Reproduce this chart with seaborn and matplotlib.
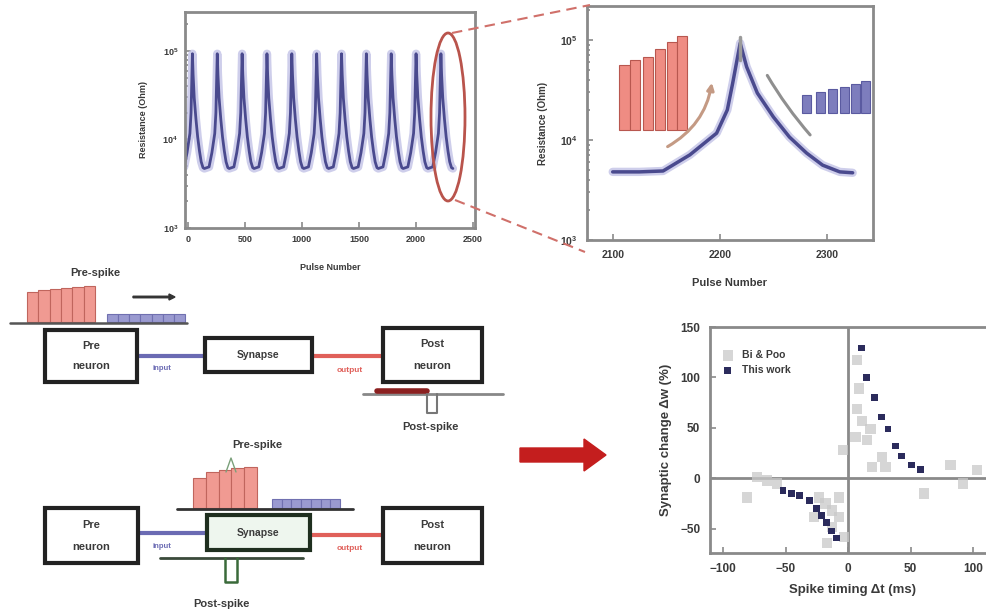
import numpy as np
import pandas as pd
import matplotlib
matplotlib.use('Agg')
import matplotlib.pyplot as plt
import seaborn as sns
from matplotlib.patches import Rectangle, Ellipse, FancyArrow
from matplotlib.lines import Line2D

# ---------------- data ----------------
# one switching cycle (zoomed panel), pulse number and resistance (Ohm)
zoom_pulse = [2100, 2125, 2147, 2172, 2197, 2207, 2212, 2219, 2225, 2235,
              2250, 2265, 2281, 2296, 2312, 2324]
zoom_resistance = [4.8e3, 4.8e3, 4.9e3, 7.1e3, 1.17e4, 2.0e4, 3.7e4, 9.3e4,
                   5.4e4, 2.95e4, 1.7e4, 1.07e4, 7.4e3, 5.6e3, 4.8e3, 4.7e3]
# pulse numbers of each resistance peak in the full run
cycle_peak_pulse = [39, 257, 475, 693, 911, 1129, 1347, 1565, 1783, 2001, 2219]

# inset pulse trains in the zoomed panel
red_pulse_number = [2111, 2121, 2133, 2144, 2155, 2165]
red_pulse_top = [5.6e4, 6.3e4, 6.8e4, 8.1e4, 9.5e4, 1.1e5]
red_pulse_base = 1.26e4
blue_pulse_number = [2281, 2294, 2305, 2316, 2327, 2336]
blue_pulse_top = [2.8e4, 3.0e4, 3.2e4, 3.4e4, 3.6e4, 3.9e4]
blue_pulse_base = 1.86e4

# STDP data
this_work_dt = [11, 15, 21, 27, 32, 38, 43, 51, 58,
                -52, -45, -39, -31, -25, -21, -17, -13, -9]
this_work_dw = [129, 100, 80, 61, 49, 32, 22, 13, 9,
                -12, -15, -17, -22, -30, -37, -44, -52, -59]
bipoo_dt = [7, 9, 7, 11, 18, 6, -4, 15, 27, 30, 19, 82, 61, 92, 103,
            -81, -73, -65, -57, -23, -18, -13, -7, -7, -3, -27, -13, -17]
bipoo_dw = [117, 89, 69, 57, 49, 41, 28, 38, 21, 11, 11, 13, -15, -5, 8,
            -19, 1, -2, -5, -19, -25, -32, -19, -38, -58, -38, -48, -64]

xticks_full = [0, 500, 1000, 1500, 2000, 2500]
xticks_zoom = [2100, 2200, 2300]
xticks_stdp = [-100, -50, 0, 50, 100]
yticks_stdp = [-50, 0, 50, 100, 150]

# ---------------- style ----------------
sns.set_style('ticks')
plt.rcParams['font.family'] = ['Liberation Sans', 'DejaVu Sans']
plt.rcParams['font.weight'] = 'bold'
plt.rcParams['axes.labelweight'] = 'bold'
plt.rcParams['mathtext.default'] = 'bf'

W, H = 986, 611
fig = plt.figure(figsize=(W / 100, H / 100), dpi=100)
SPINE = '#8a8a8a'
TXT = '#3a3a3a'


def rect(x0, y0, x1, y1):
    return [x0 / W, 1 - y1 / H, (x1 - x0) / W, (y1 - y0) / H]


def style(ax, fs, pad=3.5):
    for s in ax.spines.values():
        s.set_color(SPINE)
        s.set_linewidth(2)
    ax.tick_params(which='both', direction='in', colors=SPINE, labelcolor=TXT,
                   labelsize=fs, width=1.2, pad=pad)
    ax.tick_params(which='major', length=4)
    ax.tick_params(which='minor', length=2)


# ---------------- panel A: full run ----------------
axA = fig.add_axes(rect(185, 12, 475, 228))
axA.set_yscale('log')
peak_ref = zoom_pulse[int(np.argmax(zoom_resistance))]
full_pulse, full_res = [], []
for p in cycle_peak_pulse:
    for q, r in zip(zoom_pulse[2:], zoom_resistance[2:]):
        full_pulse.append(q - peak_ref + p)
        full_res.append(r)
dfA = pd.DataFrame({'pulse': full_pulse, 'R': full_res})
sns.lineplot(data=dfA, x='pulse', y='R', ax=axA, sort=False, estimator=None,
             color='#c2c2e6', lw=6, alpha=0.8)
sns.lineplot(data=dfA, x='pulse', y='R', ax=axA, sort=False, estimator=None,
             color='#4a4a8e', lw=2)
axA.set_xlim(-26, 2518)
axA.set_ylim(1e3, 10 ** 5.44)
axA.set_xticks(xticks_full)
axA.set_yticks([1e3, 1e4, 1e5])
style(axA, 6.5, pad=5)
axA.set_xlabel('Pulse Number', fontsize=6.5, color=TXT, labelpad=14)
axA.set_ylabel('Resistance (Ohm)', fontsize=6.5, color=TXT, labelpad=10)

# ---------------- panel B: zoom ----------------
axB = fig.add_axes(rect(587, 6, 873, 240))
axB.set_yscale('log')
axB.bar(red_pulse_number, [t - red_pulse_base for t in red_pulse_top],
        bottom=red_pulse_base, width=9.5, color='#ef8c83', edgecolor='#b8574f',
        lw=0.8, zorder=1)
axB.bar(blue_pulse_number, [t - blue_pulse_base for t in blue_pulse_top],
        bottom=blue_pulse_base, width=8.5, color='#7d7dbd', edgecolor='#5a5aa0',
        lw=0.8, zorder=1)
dfB = pd.DataFrame({'pulse': zoom_pulse, 'R': zoom_resistance})
sns.lineplot(data=dfB, x='pulse', y='R', ax=axB, sort=False, estimator=None,
             color='#c2c2e6', lw=6, alpha=0.8)
sns.lineplot(data=dfB, x='pulse', y='R', ax=axB, sort=False, estimator=None,
             color='#4a4a8e', lw=2.5)
axB.annotate('', xy=(2193, 10 ** 4.6), xytext=(2149, 10 ** 3.92),
             arrowprops=dict(arrowstyle='-|>', color='#c49a84', lw=2.2,
                             connectionstyle='arc3,rad=0.25'))
axB.annotate('', xy=(2286, 10 ** 4.03), xytext=(2243, 10 ** 4.67),
             arrowprops=dict(arrowstyle='-', color='#8f8f8f', lw=2.2,
                             connectionstyle='arc3,rad=0.05'))
axB.plot([2219, 2219], [10 ** 4.8, 10 ** 5.03], color='#9a9a9a', lw=2.5)
axB.set_xlim(2076, 2343)
axB.set_ylim(1e3, 10 ** 5.34)
axB.set_xticks(xticks_zoom)
axB.set_yticks([1e3, 1e4, 1e5])
style(axB, 7.5, pad=7)
axB.set_xlabel('Pulse Number', fontsize=8, color=TXT, labelpad=13)
axB.set_ylabel('Resistance (Ohm)', fontsize=7, color=TXT, labelpad=8)

# ---------------- panel C: STDP ----------------
axC = fig.add_axes(rect(710, 327, 995, 553))
axC.axhline(0, color=SPINE, lw=2, zorder=1)
axC.axvline(0, color=SPINE, lw=2, zorder=1)
dfBP = pd.DataFrame({'dt': bipoo_dt, 'dw': bipoo_dw})
dfTW = pd.DataFrame({'dt': this_work_dt, 'dw': this_work_dw})
sns.scatterplot(data=dfBP, x='dt', y='dw', ax=axC, marker='s', s=55,
                color='#c9c9c9', alpha=0.75, edgecolor='none', label='Bi & Poo',
                zorder=2)
sns.scatterplot(data=dfTW, x='dt', y='dw', ax=axC, marker='s', s=22,
                color='#2b2b5c', edgecolor='none', label='This work', zorder=3)
axC.set_xlim(-110.4, 117.6)
axC.set_ylim(-74, 150)
axC.set_xticks(xticks_stdp)
axC.set_yticks(yticks_stdp)
style(axC, 8.5, pad=7)
axC.spines['right'].set_visible(False)
axC.set_xlabel('Spike timing Δt (ms)', fontsize=9.5, color=TXT, labelpad=7)
axC.set_ylabel('Synaptic change Δw (%)', fontsize=9.5, color=TXT, labelpad=6)
leg = axC.legend(loc='upper left', bbox_to_anchor=(0.0, 0.93), frameon=False,
                 fontsize=7.5, handletextpad=0.4, labelspacing=0.5,
                 borderaxespad=0.3)
for t in leg.get_texts():
    t.set_color(TXT)

# ---------------- overlay (diagrams, zoom guide) ----------------
ov = fig.add_axes([0, 0, 1, 1], zorder=10)
ov.set_xlim(0, W)
ov.set_ylim(H, 0)
ov.axis('off')
ov.patch.set_alpha(0)

# zoom guide
ov.add_patch(Ellipse((448, 117), 34, 168, fill=False, ec='#b9544c', lw=2))
ov.plot([452, 590], [33, 5], ls=(0, (5, 3)), color='#d0706a', lw=1.5)
ov.plot([455, 585], [200, 252], ls=(0, (5, 3)), color='#d0706a', lw=1.5)


def box(x0, y0, x1, y1, lines, fc='white', ec='#222222', fs=8):
    ov.add_patch(Rectangle((x0, y0), x1 - x0, y1 - y0, facecolor=fc,
                           edgecolor=ec, lw=3, zorder=3))
    cx = (x0 + x1) / 2
    if len(lines) == 1:
        ov.text(cx, (y0 + y1) / 2, lines[0], ha='center', va='center',
                fontsize=fs, color=TXT, zorder=4)
    else:
        ov.text(cx, y0 + (y1 - y0) * 0.3, lines[0], ha='center', va='center',
                fontsize=fs, color=TXT, zorder=4)
        ov.text(cx, y0 + (y1 - y0) * 0.7, lines[1], ha='center', va='center',
                fontsize=fs, color=TXT, zorder=4)


def pulses(x0, x1, tops, base, color, ec):
    n = len(tops)
    w = (x1 - x0) / n
    for i, t in enumerate(tops):
        ov.add_patch(Rectangle((x0 + i * w, t), w, base - t, facecolor=color,
                               edgecolor=ec, lw=0.8, zorder=2))


# --- top diagram ---
ov.text(95, 273, 'Pre-spike', ha='center', va='center', fontsize=8, color=TXT)
pulses(27, 95, [292, 290, 289, 288, 287, 286], 322, '#f09a92', '#c0655d')
pulses(107, 185, [314] * 7, 322, '#9a9ad0', '#7070b0')
ov.plot([10, 187], [323, 323], color='#555555', lw=1.8, zorder=3)
ov.add_patch(FancyArrow(133, 297, 36, 0, width=1.5, head_width=6,
                        head_length=6, color='#333333', zorder=3))
box(45, 330, 137, 382, ['Pre', 'neuron'])
ov.plot([137, 205], [356, 356], color='#6b6bb3', lw=3, zorder=2)
ov.text(162, 369, 'input', ha='center', va='center', fontsize=5.5, color='#6b6bb3')
box(205, 338, 312, 372, ['Synapse'], fs=7.5)
ov.plot([312, 383], [356, 356], color='#e0605a', lw=3, zorder=2)
ov.text(350, 370, 'output', ha='center', va='center', fontsize=6, color='#e0605a')
box(383, 328, 482, 382, ['Post', 'neuron'])
ov.plot([363, 503], [394, 394], color='#888888', lw=2, zorder=2)
ov.plot([377, 427], [391, 391], color='#8b2020', lw=4, zorder=3)
ov.plot([427, 427, 437, 437], [394, 413, 413, 394], color='#777777', lw=1.5, zorder=3)
ov.text(430, 427, 'Post-spike', ha='center', va='center', fontsize=8, color=TXT)

# --- bottom diagram ---
ov.text(257, 445, 'Pre-spike', ha='center', va='center', fontsize=8, color=TXT)
ov.plot([226, 231, 236], [472, 458, 472], color='#7aa07a', lw=1, zorder=3)
pulses(193, 257, [478, 472, 470, 468, 467], 508, '#f09a92', '#c0655d')
pulses(272, 340, [499] * 7, 508, '#9a9ad0', '#7070b0')
ov.plot([177, 353], [509, 509], color='#333333', lw=2, zorder=3)
box(45, 508, 138, 563, ['Pre', 'neuron'])
ov.plot([138, 207], [533, 533], color='#6b6bb3', lw=3, zorder=2)
ov.text(162, 547, 'input', ha='center', va='center', fontsize=5.5, color='#6b6bb3')
box(207, 515, 310, 550, ['Synapse'], fc='#eef6ee', ec='#1f2f1f', fs=7.5)
ov.plot([310, 383], [535, 535], color='#e0605a', lw=3, zorder=2)
ov.text(350, 548, 'output', ha='center', va='center', fontsize=6, color='#e0605a')
box(383, 508, 482, 563, ['Post', 'neuron'])
ov.plot([160, 303], [558, 558], color='#3a4a3a', lw=2, zorder=3)
ov.plot([225, 225, 237, 237], [558, 582, 582, 558], color='#3a6a3a', lw=1.8, zorder=3)
ov.text(221, 604, 'Post-spike', ha='center', va='center', fontsize=8, color=TXT)

# big arrow
ov.add_patch(FancyArrow(520, 455, 64, 0, width=14, head_width=32,
                        head_length=22, color='#c41e1e', zorder=3))

fig.savefig('out.png', dpi=100)
